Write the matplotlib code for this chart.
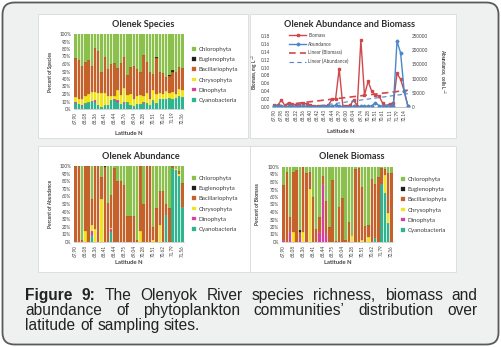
import numpy as np
import matplotlib.pyplot as plt
from matplotlib.patches import FancyBboxPatch, Rectangle
from matplotlib.lines import Line2D
from matplotlib.ticker import FuncFormatter

# ==========================================================
# DATA
# ==========================================================
groups = ['Cyanobacteria', 'Dinophyta', 'Chrysophyta',
          'Bacillariophyta', 'Euglenophyta', 'Chlorophyta']
colors = ['#2fb391', '#d6409f', '#f0e51c', '#c5622b', '#1e1e1e', '#8bc04c']

# Olenek Species, percent per site
sp_cyano = [8, 7, 4, 8, 10, 11, 9, 5, 3, 6, 6, 12, 12, 10, 7, 8, 10,
            5, 4, 7, 7, 8, 8, 5, 12, 8, 13, 13, 14, 15, 13, 15, 17, 16]
sp_dino = [2, 0, 2, 0, 0, 0, 3, 0, 0, 0, 0, 0, 2, 2, 0, 2, 0,
           0, 0, 0, 0, 2, 0, 0, 0, 0, 0, 0, 0, 0, 0, 0, 0, 0]
sp_chryso = [6, 6, 8, 10, 10, 12, 11, 17, 19, 15, 12, 6, 4, 14, 12, 18, 9,
             15, 10, 11, 12, 8, 14, 8, 13, 12, 8, 7, 10, 6, 10, 5, 10, 10]
sp_bacil = [52, 53, 44, 45, 45, 34, 59, 56, 28, 49, 36, 42, 43, 29, 43, 41, 26,
            36, 43, 35, 31, 54, 41, 37, 22, 48, 28, 28, 19, 23, 27, 29, 29, 29]
sp_eugl = [0, 0, 0, 0, 0, 0, 0, 0, 0, 0, 0, 0, 0, 0, 0, 0, 0,
           0, 0, 0, 0, 0, 0, 0, 0, 2, 0, 0, 0, 2, 2, 0, 0, 0]
sp_chloro = [32, 34, 42, 37, 35, 43, 18, 22, 50, 30, 46, 40, 39, 45, 38, 31, 55,
             44, 43, 47, 50, 28, 37, 50, 53, 30, 51, 52, 57, 54, 48, 51, 44, 45]
sp_ticks = ['67.90', '68.08', '68.36', '68.41', '68.44', '68.76',
            '69.04', '70.28', '70.51', '70.62', '71.19', '72.36']

# Olenek Abundance, percent per site
ab_cyano = [0, 0, 0, 0, 0, 9, 0, 0, 0, 0, 0, 13, 0, 0, 0, 0, 0,
            0, 0, 0, 0, 0, 0, 0, 0, 0, 0, 0, 36, 0, 98, 95, 87, 46]
ab_dino = [0, 0, 0, 0, 0, 5, 0, 0, 0, 0, 0, 4, 0, 0, 0, 0, 0,
           0, 0, 0, 0, 0, 0, 0, 0, 0, 0, 0, 0, 0, 0, 0, 0, 0]
ab_chryso = [0, 0, 0, 14, 0, 9, 17, 0, 57, 0, 0, 2, 0, 0, 0, 0, 0,
             0, 0, 0, 14, 0, 0, 0, 2, 0, 22, 0, 0, 0, 0, 2, 2, 0]
ab_bacil = [100, 100, 3, 86, 100, 34, 83, 100, 29, 99, 51, 43, 98, 80, 80, 75, 34,
            34, 34, 3, 86, 50, 100, 100, 18, 45, 45, 67, 14, 45, 2, 1, 4, 31]
ab_eugl = [0, 0, 0, 0, 0, 0, 0, 0, 0, 1, 0, 0, 0, 0, 0, 0, 0,
           0, 0, 0, 0, 0, 0, 0, 0, 0, 0, 0, 0, 0, 0, 0, 0, 0]
ab_chloro = [0, 0, 97, 0, 0, 43, 0, 0, 14, 0, 49, 38, 2, 20, 20, 25, 66,
             66, 66, 97, 0, 50, 0, 0, 80, 55, 33, 33, 50, 55, 0, 2, 7, 23]
ab_ticks = ['67.90', '68.08', '68.36', '68.41', '68.44', '68.75',
            '69.04', '70.28', '70.51', '70.62', '71.79', '71.56']

# Olenek Biomass, percent per site
bm_cyano = [0, 0, 0, 0, 0, 0, 0, 0, 0, 0, 0, 0, 0, 0, 0, 0, 0,
            0, 0, 0, 0, 0, 0, 0, 0, 0, 0, 0, 6, 0, 77, 65, 25, 0]
bm_dino = [3, 0, 14, 0, 0, 6, 0, 0, 0, 0, 0, 13, 78, 11, 0, 0, 0,
           0, 0, 0, 0, 0, 0, 0, 0, 0, 0, 0, 0, 0, 0, 0, 0, 0]
bm_chryso = [0, 0, 0, 13, 0, 0, 13, 0, 71, 0, 0, 0, 0, 0, 0, 0, 0,
             0, 0, 0, 0, 9, 0, 0, 3, 0, 7, 0, 0, 0, 0, 25, 14, 0]
bm_bacil = [73, 94, 19, 80, 96, 8, 87, 92, 22, 60, 18, 21, 10, 44, 20, 83, 2,
            47, 59, 3, 27, 0, 98, 99, 70, 22, 16, 84, 72, 87, 22, 8, 53, 92]
bm_eugl = [0, 0, 1, 0, 0, 2, 0, 0, 0, 0, 0, 0, 0, 0, 0, 0, 0,
           0, 0, 0, 0, 0, 0, 0, 0, 0, 0, 0, 0, 0, 0, 0, 0, 0]
bm_chloro = [24, 6, 66, 7, 4, 84, 0, 8, 7, 40, 82, 66, 12, 45, 80, 17, 98,
             53, 41, 97, 73, 91, 2, 1, 27, 78, 77, 16, 22, 13, 1, 2, 8, 8]
bm_ticks = ['67.90', '68.08', '68.36', '68.41', '68.44', '68.75',
            '69.04', '70.28', '70.51', '70.62', '71.79', '72.36']

# Olenek Abundance and Biomass
biomass = [0.005, 0.004, 0.018, 0.003, 0.011, 0.008, 0.005, 0.006, 0.010, 0.008,
           0.004, 0.003, 0.002, 0.003, 0.002, 0.004, 0.020, 0.020, 0.097, 0.003,
           0.003, 0.004, 0.018, 0.002, 0.170, 0.030, 0.065, 0.040, 0.030, 0.028,
           0.010, 0.003, 0.008, 0.010, 0.085, 0.070, 0.040, 0.003]
abundance = [3000, 2000, 4000, 1000, 2000, 3000, 1000, 2000, 4000, 2000,
             1000, 1000, 500, 1000, 500, 2000, 3000, 6000, 2000, 1000,
             1000, 500, 2000, 1000, 2000, 2000, 3000, 4000, 15000, 5000,
             3000, 4000, 3000, 5000, 232000, 190000, 55000, 4000]
line_ticks = ['67.90', '67.98', '68.08', '68.32', '68.36', '68.40', '68.42',
              '68.43', '68.44', '68.79', '69.00', '69.04', '69.74', '70.28',
              '70.51', '70.61', '71.11', '71.79', '72.14']

# ==========================================================
# FIGURE / BACKGROUND
# ==========================================================
W, H = 501, 347
CF = 'Lato'
TXT = '#404040'

fig = plt.figure(figsize=(W / 100, H / 100), dpi=100)
fig.patch.set_facecolor('white')


def px_box(x0, y0, x1, y1):
    return [x0 / W, 1 - y1 / H, (x1 - x0) / W, (y1 - y0) / H]


bg = fig.add_axes([0, 0, 1, 1], zorder=0)
bg.set_xlim(0, W)
bg.set_ylim(H, 0)
bg.axis('off')

bg.add_patch(FancyBboxPatch((2.5, 2.5), W - 5, H - 5,
                            boxstyle='round,pad=0,rounding_size=12',
                            fc='#eff0f0', ec='#5a5a5a', lw=1.3))

panels = [(38, 14, 248, 138), (250, 14, 456, 138),
          (38, 146, 250, 272), (250, 146, 456, 272)]
for x0, y0, x1, y1 in panels:
    bg.add_patch(Rectangle((x0, y0), x1 - x0, y1 - y0,
                           fc='white', ec='#dadada', lw=0.6))


# ==========================================================
# STACKED BAR CHARTS
# ==========================================================
def stacked_bars(box, series, ticks, title, title_xy, ylabel, ylabel_x,
                 xlabel_y, leg_xy):
    ax = fig.add_axes(px_box(*box), zorder=2)
    ax.patch.set_alpha(0)
    x = np.arange(len(series[0]))
    bottom = np.zeros(len(x))
    for vals, name, col in zip(series, groups, colors):
        vals = np.array(vals, dtype=float)
        ax.bar(x, vals, 0.74, bottom=bottom, color=col, label=name,
               edgecolor=col, linewidth=0.2)
        bottom += vals
    ax.set_xlim(-0.5, len(x) - 0.5)
    ax.set_ylim(0, 100)
    ax.set_yticks(range(0, 101, 10))
    ax.set_yticklabels([f'{v}%' for v in range(0, 101, 10)])
    ax.set_xticks(x[::3])
    ax.set_xticklabels(ticks, rotation=90)
    ax.tick_params(length=0, labelsize=3.3, colors=TXT, pad=2)
    for lab in ax.get_xticklabels() + ax.get_yticklabels():
        lab.set_family(CF)
    for s in ['top', 'right', 'left']:
        ax.spines[s].set_visible(False)
    ax.spines['bottom'].set_color('#bfbfbf')
    ax.spines['bottom'].set_linewidth(0.5)

    bg.text(title_xy[0], title_xy[1], title, family=CF, fontweight='bold',
            fontsize=6.6, color='#303030', ha='center', va='center')
    bg.text(ylabel_x, (box[1] + box[3]) / 2, ylabel, family=CF,
            fontweight='bold', fontsize=3.5, color=TXT, rotation=90,
            ha='center', va='center')
    bg.text((box[0] + box[2]) / 2, xlabel_y, 'Latitude N', family=CF,
            fontweight='bold', fontsize=4.2, color=TXT,
            ha='center', va='center')

    h, l = ax.get_legend_handles_labels()
    leg = ax.legend(h[::-1], l[::-1], loc='center left',
                    bbox_to_anchor=(leg_xy[0] / W, 1 - leg_xy[1] / H),
                    bbox_transform=fig.transFigure, frameon=False,
                    prop={'family': CF, 'size': 4.4}, labelspacing=0.82,
                    handlelength=0.6, handleheight=0.6, handletextpad=0.45,
                    borderpad=0, borderaxespad=0)
    for t in leg.get_texts():
        t.set_color(TXT)
    return ax


stacked_bars((74, 34, 184, 109),
             [sp_cyano, sp_dino, sp_chryso, sp_bacil, sp_eugl, sp_chloro],
             sp_ticks, 'Olenek Species', (143, 24), 'Percent of Species', 51,
             133, (192, 75))

stacked_bars((74, 166, 184, 242),
             [ab_cyano, ab_dino, ab_chryso, ab_bacil, ab_eugl, ab_chloro],
             ab_ticks, 'Olenek Abundance', (141, 156), 'Percent of Abundance',
             51, 262, (192, 204))

stacked_bars((282, 167, 393, 242),
             [bm_cyano, bm_dino, bm_chryso, bm_bacil, bm_eugl, bm_chloro],
             bm_ticks, 'Olenek Biomass', (352, 156), 'Percent of Biomass',
             258, 262, (401, 205))

# ==========================================================
# ABUNDANCE AND BIOMASS LINES
# ==========================================================
RED = '#d0484a'
BLUE = '#4a86c8'

box = (272, 36, 410, 107)
ax = fig.add_axes(px_box(*box), zorder=3)
ax.patch.set_alpha(0)
ax2 = ax.twinx()

n = len(biomass)
x = np.arange(n)

# Excel style linear trendlines
cb = np.polyfit(x + 1, biomass, 1)
ca = np.polyfit(x + 1, abundance, 1)

ax.plot(x, biomass, color=RED, lw=1.0, marker='s', ms=1.6)
ax.plot(x, np.polyval(cb, x + 1), color=RED, lw=1.2, ls=(0, (4, 2.5)))
ax2.plot(x, abundance, color=BLUE, lw=1.0, marker='D', ms=1.5)
ax2.plot(x, np.polyval(ca, x + 1), color=BLUE, lw=0.8, ls=(0, (4, 3)))

ax.set_xlim(-0.6, n - 0.4)
ax.set_ylim(0, 0.18)
ax.set_yticks(np.arange(0, 0.181, 0.02))
ax.yaxis.set_major_formatter(FuncFormatter(lambda v, p: f'{v:.2f}'))
ax2.set_ylim(0, 250000)
ax2.set_yticks(range(0, 250001, 50000))
ax.set_xticks(x[::2])
ax.set_xticklabels(line_ticks, rotation=90)

for a in (ax, ax2):
    a.tick_params(length=0, labelsize=3.3, colors=TXT, pad=1.5)
    for lab in a.get_xticklabels() + a.get_yticklabels():
        lab.set_family(CF)
    for s in ['top', 'right', 'left']:
        a.spines[s].set_visible(False)
    a.spines['bottom'].set_color('#bfbfbf')
    a.spines['bottom'].set_linewidth(0.5)

leg_handles = [
    Line2D([], [], color=RED, lw=1.0, marker='s', ms=1.6),
    Line2D([], [], color=BLUE, lw=1.0, marker='D', ms=1.5),
    Line2D([], [], color=RED, lw=1.2, ls=(0, (4, 2.5))),
    Line2D([], [], color=BLUE, lw=0.8, ls=(0, (4, 3))),
]
leg = ax2.legend(leg_handles,
                 ['Biomass', 'Abundance', 'Linear (Biomass)',
                  'Linear (Abundance)'],
                 loc='upper left', bbox_to_anchor=(289 / W, 1 - 33 / H),
                 bbox_transform=fig.transFigure, frameon=False,
                 prop={'family': CF, 'size': 3.4}, labelspacing=0.75,
                 handlelength=3.6, handletextpad=0.5, borderpad=0,
                 borderaxespad=0)
for t in leg.get_texts():
    t.set_color(TXT)

bg.text(350, 24, 'Olenek Abundance and Biomass', family=CF,
        fontweight='bold', fontsize=6.6, color='#303030',
        ha='center', va='center')
bg.text(255, 72, 'Biomass, mg L$^{-1}$', family=CF, fontweight='bold',
        fontsize=3.4, color=TXT, rotation=90, ha='center', va='center')
bg.text(443, 72, 'Abundance, cells L$^{-1}$', family=CF, fontweight='bold',
        fontsize=3.4, color=TXT, rotation=270, ha='center', va='center')
bg.text(341, 131, 'Latitude N', family=CF, fontweight='bold',
        fontsize=4.2, color=TXT, ha='center', va='center')

# ==========================================================
# CAPTION (justified)
# ==========================================================
CAP = 'Liberation Sans'
CAP_SIZE = 11.2
lines = [
    ([('Figure', True), ('9:', True), ('The', False), ('Olenyok', False),
      ('River', False), ('species', False), ('richness,', False),
      ('biomass', False), ('and', False)], 300, True),
    ([('abundance', False), ('of', False), ('phytoplankton', False),
      ('communities\u2019', False), ('distribution', False),
      ('over', False)], 315, True),
    ([('latitude', False), ('of', False), ('sampling', False),
      ('sites.', False)], 330, False),
]

renderer = fig.canvas.get_renderer()
x_left, x_right = 25.5, 477.5
for words, y, justify in lines:
    texts = [bg.text(0, y, w, family=CAP, fontsize=CAP_SIZE,
                     fontweight='bold' if b else 'normal', color='#222222',
                     ha='left', va='baseline') for w, b in words]
    widths = [t.get_window_extent(renderer).width for t in texts]
    if justify:
        gap = (x_right - x_left - sum(widths)) / (len(texts) - 1)
    else:
        gap = CAP_SIZE / 0.72 * 0.278
    xpos = x_left
    for t, w in zip(texts, widths):
        t.set_x(xpos)
        xpos += w + gap

fig.savefig('out.png', dpi=100)
